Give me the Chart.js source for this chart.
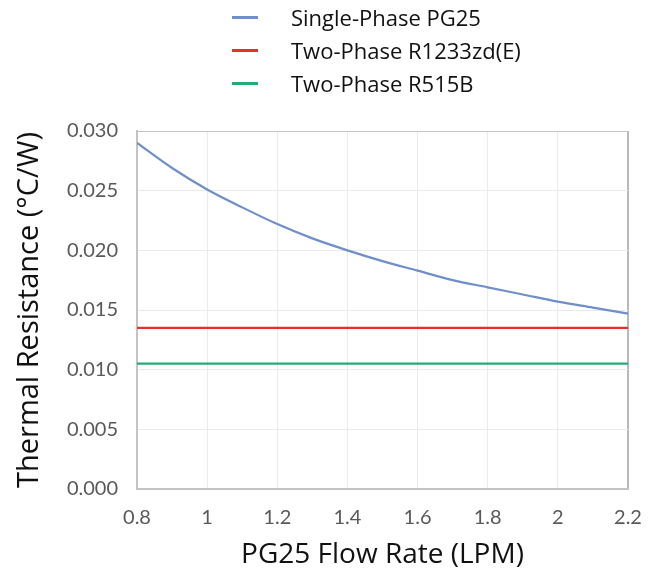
<!DOCTYPE html>
<html>
<head>
<meta charset="utf-8">
<script src="https://cdn.jsdelivr.net/npm/chart.js@4.4.1/dist/chart.umd.min.js"></script>
<style>
  html, body { margin: 0; padding: 0; background: #fff; }
  #wrap { position: relative; width: 660px; height: 576px; }
  #legend { position: absolute; left: 232px; top: 1px; font-family: "Open Sans", sans-serif; font-size: 22px; color: #111; }
  #legend div { height: 33px; line-height: 33px; display: flex; align-items: center; }
  #legend span.swatch { display: inline-block; width: 26px; height: 3px; margin-right: 33px; }
</style>
</head>
<body>
<div id="wrap">
  <canvas id="lineChart" width="660" height="576"></canvas>
  <div id="legend"></div>
</div>
<script>
// flow rate in LPM
const flowRate = [0.8, 0.9, 1.0, 1.1, 1.2, 1.3, 1.4, 1.5, 1.6, 1.7, 1.8, 1.9, 2.0, 2.1, 2.2];
const singlePhasePG25 = [0.0290, 0.0269, 0.0251, 0.0236, 0.0222, 0.0210, 0.0200, 0.0191, 0.0183, 0.0175, 0.0169, 0.0163, 0.0157, 0.0152, 0.0147];
const twoPhaseR1233 = [0.0135, 0.0135];
const twoPhaseR515B = [0.0105, 0.0105];
const lineEnds = [0.8, 2.2];
const seriesNames = ['Single-Phase PG25', 'Two-Phase R1233zd(E)', 'Two-Phase R515B'];
const seriesColors = ['#6f8fca', '#e0342a', '#25ac76'];

function toPoints(xs, ys) {
    return ys.map((y, i) => ({ x: xs[i], y: y }));
}

var ctx = document.getElementById('lineChart').getContext('2d');
var lineChart = new Chart(ctx, {
    type: 'line',
    data: {
        datasets: [{
            label: seriesNames[0],
            data: toPoints(flowRate, singlePhasePG25),
            borderColor: seriesColors[0],
            borderWidth: 2.2,
            pointRadius: 0,
            cubicInterpolationMode: 'monotone',
            fill: false,
        }, {
            label: seriesNames[1],
            data: toPoints(lineEnds, twoPhaseR1233),
            borderColor: seriesColors[1],
            borderWidth: 2.2,
            pointRadius: 0,
            fill: false,
        }, {
            label: seriesNames[2],
            data: toPoints(lineEnds, twoPhaseR515B),
            borderColor: seriesColors[2],
            borderWidth: 2.2,
            pointRadius: 0,
            fill: false,
        }]
    },
    options: {
        responsive: false,
        animation: false,
        layout: { padding: { top: 131, right: 32, left: 10, bottom: 0 } },
        plugins: {
            legend: { display: false },
            tooltip: { enabled: false }
        },
        scales: {
            x: {
                type: 'linear',
                min: 0.8,
                max: 2.2,
                afterFit: (s) => { s.height = 87; },
                ticks: {
                    stepSize: 0.2,
                    color: '#595959',
                    font: { family: 'Lato', size: 20 },
                    padding: 17,
                    callback: (v) => String(Math.round(v * 10) / 10)
                },
                grid: {
                    color: (c) => c.index === c.chart.scales.x.ticks.length - 1 ? '#b8b8b8' : '#ebebeb',
                    lineWidth: (c) => c.index === c.chart.scales.x.ticks.length - 1 ? 2 : 1,
                    drawTicks: false
                },
                border: { color: '#c4c4c4', width: 2 },
                title: {
                    display: true,
                    text: 'PG25 Flow Rate (LPM)',
                    color: '#111',
                    font: { family: 'Open Sans', size: 28 },
                    padding: { top: 0, bottom: 4 }
                }
            },
            y: {
                min: 0,
                max: 0.03,
                afterFit: (s) => { s.width = 127; },
                ticks: {
                    stepSize: 0.005,
                    color: '#595959',
                    font: { family: 'Lato', size: 20 },
                    padding: 19,
                    callback: (v) => v.toFixed(3)
                },
                grid: {
                    color: (c) => c.index === c.chart.scales.y.ticks.length - 1 ? '#c4c4c4' : '#ebebeb',
                    drawTicks: false
                },
                border: { color: '#c4c4c4', width: 2 },
                title: {
                    display: true,
                    text: 'Thermal Resistance (°C/W)',
                    color: '#111',
                    font: { family: 'Open Sans', size: 29 },
                    padding: { top: 2, bottom: 0 }
                }
            }
        }
    }
});

// legend as a vertical list, like the original
let legendHtml = "";
seriesNames.map((name, i) => {
    legendHtml += `<div><span class="swatch" style="background:${seriesColors[i]}"></span>${name}</div>`;
});
document.getElementById('legend').innerHTML = legendHtml;
</script>
</body>
</html>
